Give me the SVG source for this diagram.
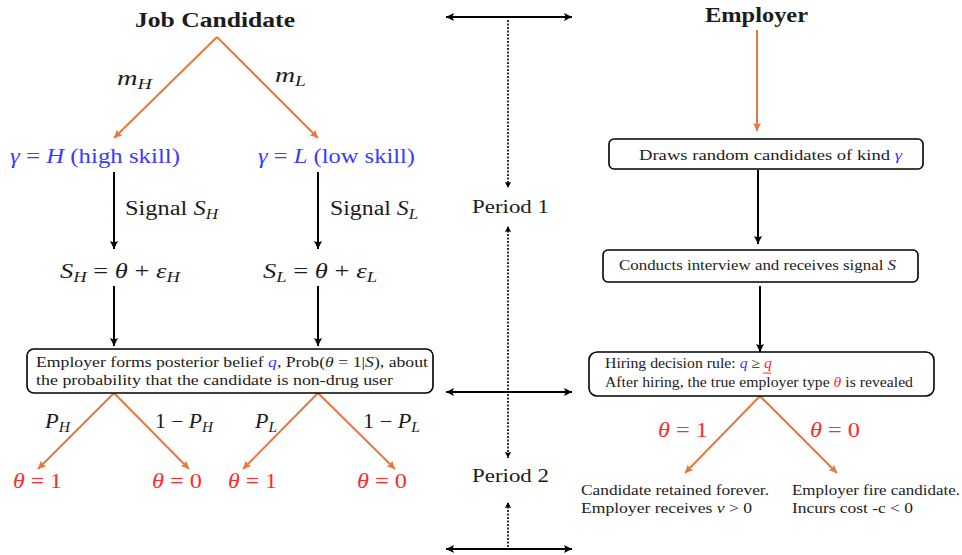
<svg xmlns="http://www.w3.org/2000/svg" width="962" height="555" viewBox="0 0 962 555">
<defs>
<style>
text{font-family:"Liberation Serif","DejaVu Serif",serif;fill:#1c1c1c}
.i{font-style:italic}
.bl{fill:#3b3bff}
.rd{fill:#ff2a2a}
.hd{font-weight:bold;font-size:21px}
.m{font-size:20px}
.or{stroke:#e8773a;stroke-width:2;fill:none;marker-end:url(#ao)}
.bk{stroke:#000;stroke-width:2;fill:none;marker-end:url(#ab)}
.dt{stroke:#000;stroke-width:1.6;fill:none;stroke-dasharray:2 1.5;marker-end:url(#ab)}
.hz{stroke:#000;stroke-width:2;fill:none;marker-start:url(#ab2);marker-end:url(#ab)}
.box{fill:#fff;stroke:#000;stroke-width:1.6}
</style>
<marker id="ao" viewBox="0 0 10 10" refX="10" refY="5" markerWidth="4.5" markerHeight="4" orient="auto" markerUnits="strokeWidth"><path d="M0,0 L10,5 L0,10 L2,5 z" fill="#e8773a"/></marker>
<marker id="ab" viewBox="0 0 10 10" refX="10" refY="5" markerWidth="4.5" markerHeight="4" orient="auto" markerUnits="strokeWidth"><path d="M0,0 L10,5 L0,10 L2,5 z" fill="#000"/></marker>
<marker id="ab2" viewBox="0 0 10 10" refX="10" refY="5" markerWidth="4.5" markerHeight="4" orient="auto-start-reverse" markerUnits="strokeWidth"><path d="M0,0 L10,5 L0,10 L2,5 z" fill="#000"/></marker>
</defs>
<rect width="962" height="555" fill="#fff"/>

<g id="connectors">
<line class="or" x1="217" y1="37" x2="114" y2="138"/>
<line class="or" x1="217" y1="37" x2="318" y2="138"/>
<line class="bk" x1="114" y1="172" x2="114" y2="249"/>
<line class="bk" x1="318" y1="172" x2="318" y2="249"/>
<line class="bk" x1="114" y1="286" x2="114" y2="346"/>
<line class="bk" x1="318" y1="286" x2="318" y2="346"/>
<line class="or" x1="114" y1="393" x2="38" y2="469"/>
<line class="or" x1="114" y1="393" x2="189" y2="469"/>
<line class="or" x1="318" y1="393" x2="243" y2="469"/>
<line class="or" x1="318" y1="393" x2="395" y2="469"/>
<line class="hz" x1="446" y1="17" x2="572" y2="17"/>
<line class="hz" x1="446" y1="392" x2="572" y2="392"/>
<line class="hz" x1="446" y1="549" x2="572" y2="549"/>
<line class="dt" x1="508" y1="20" x2="508" y2="188"/>
<line class="dt" x1="508" y1="390" x2="508" y2="226"/>
<line class="dt" x1="508" y1="394" x2="508" y2="458"/>
<line class="dt" x1="508" y1="547" x2="508" y2="502"/>
<line class="or" x1="757" y1="30" x2="757" y2="131"/>
<line class="bk" x1="758" y1="170" x2="758" y2="244"/>
<line class="bk" x1="760" y1="286" x2="760" y2="352"/>
<line class="or" x1="760" y1="396" x2="685" y2="473"/>
<line class="or" x1="760" y1="396" x2="837" y2="473"/>
</g>

<g id="job-candidate"><text class="hd" x="135" y="27" textLength="160" lengthAdjust="spacingAndGlyphs">Job Candidate</text></g>
<g id="label-mH"><text class="m i" x="117" y="85" textLength="35" lengthAdjust="spacingAndGlyphs">m<tspan font-size="14" dy="4">H</tspan></text></g>
<g id="label-mL"><text class="m i" x="275" y="82" textLength="31" lengthAdjust="spacingAndGlyphs">m<tspan font-size="14" dy="4">L</tspan></text></g>

<g id="gamma-H"><text class="m bl" x="10" y="163" textLength="170" lengthAdjust="spacingAndGlyphs"><tspan class="i">γ</tspan> = <tspan class="i">H</tspan> (high skill)</text></g>
<g id="gamma-L"><text class="m bl" x="258" y="163" textLength="157" lengthAdjust="spacingAndGlyphs"><tspan class="i">γ</tspan> = <tspan class="i">L</tspan> (low skill)</text></g>

<g id="label-signal-H"><text class="m" x="125" y="215" textLength="93" lengthAdjust="spacingAndGlyphs">Signal <tspan class="i">S</tspan><tspan class="i" font-size="14" dy="4">H</tspan></text></g>
<g id="label-signal-L"><text class="m" x="330" y="215" textLength="88" lengthAdjust="spacingAndGlyphs">Signal <tspan class="i">S</tspan><tspan class="i" font-size="14" dy="4">L</tspan></text></g>

<g id="SH-eq"><text class="m" x="60" y="278" textLength="120" lengthAdjust="spacingAndGlyphs"><tspan class="i">S</tspan><tspan class="i" font-size="14" dy="4">H</tspan><tspan dy="-4"> = </tspan><tspan class="i">θ</tspan> + <tspan class="i">ε</tspan><tspan class="i" font-size="14" dy="4">H</tspan></text></g>
<g id="SL-eq"><text class="m" x="263" y="278" textLength="114" lengthAdjust="spacingAndGlyphs"><tspan class="i">S</tspan><tspan class="i" font-size="14" dy="4">L</tspan><tspan dy="-4"> = </tspan><tspan class="i">θ</tspan> + <tspan class="i">ε</tspan><tspan class="i" font-size="14" dy="4">L</tspan></text></g>

<g id="posterior-box">
<rect class="box" x="27" y="349" width="406" height="44" rx="7"/>
<text font-size="15.5" x="36" y="367" textLength="392" lengthAdjust="spacingAndGlyphs">Employer forms posterior belief <tspan class="i bl">q</tspan>, Prob(<tspan class="i">θ</tspan> = 1|<tspan class="i">S</tspan>), about</text>
<text font-size="15.5" x="36" y="385" textLength="357" lengthAdjust="spacingAndGlyphs">the probability that the candidate is non-drug user</text>
</g>

<g id="label-PH"><text class="m i" x="45" y="428" textLength="25" lengthAdjust="spacingAndGlyphs">P<tspan font-size="14" dy="4">H</tspan></text></g>
<g id="label-1-PH"><text class="m" x="155" y="428" textLength="58" lengthAdjust="spacingAndGlyphs">1 − <tspan class="i">P</tspan><tspan class="i" font-size="14" dy="4">H</tspan></text></g>
<g id="label-PL"><text class="m i" x="255" y="428" textLength="22" lengthAdjust="spacingAndGlyphs">P<tspan font-size="14" dy="4">L</tspan></text></g>
<g id="label-1-PL"><text class="m" x="363" y="428" textLength="57" lengthAdjust="spacingAndGlyphs">1 − <tspan class="i">P</tspan><tspan class="i" font-size="14" dy="4">L</tspan></text></g>

<g id="theta1-H"><text class="m rd" x="13" y="488" textLength="49" lengthAdjust="spacingAndGlyphs"><tspan class="i">θ</tspan> = 1</text></g>
<g id="theta0-H"><text class="m rd" x="152" y="488" textLength="50" lengthAdjust="spacingAndGlyphs"><tspan class="i">θ</tspan> = 0</text></g>
<g id="theta1-L"><text class="m rd" x="228" y="488" textLength="49" lengthAdjust="spacingAndGlyphs"><tspan class="i">θ</tspan> = 1</text></g>
<g id="theta0-L"><text class="m rd" x="357" y="488" textLength="50" lengthAdjust="spacingAndGlyphs"><tspan class="i">θ</tspan> = 0</text></g>

<g id="period-1"><text font-size="19" x="472" y="213" textLength="77" lengthAdjust="spacingAndGlyphs">Period 1</text></g>
<g id="period-2"><text font-size="19" x="472" y="482" textLength="77" lengthAdjust="spacingAndGlyphs">Period 2</text></g>

<g id="employer"><text class="hd" x="705" y="22" textLength="103" lengthAdjust="spacingAndGlyphs">Employer</text></g>

<g id="draws-box">
<rect class="box" x="609" y="139" width="314" height="30" rx="5"/>
<text font-size="15.5" x="639" y="160" textLength="263" lengthAdjust="spacingAndGlyphs">Draws random candidates of kind <tspan class="i bl">γ</tspan></text>
</g>
<g id="interview-box">
<rect class="box" x="603" y="250" width="315" height="32" rx="5"/>
<text font-size="15" x="619" y="270" textLength="277" lengthAdjust="spacingAndGlyphs">Conducts interview and receives signal <tspan class="i">S</tspan></text>
</g>
<g id="hiring-box">
<rect class="box" x="589" y="352" width="345" height="44" rx="8"/>
<text font-size="14" x="605" y="368" textLength="167" lengthAdjust="spacingAndGlyphs">Hiring decision rule: <tspan class="i bl">q</tspan> ≥ <tspan class="i rd">q</tspan></text>
<line x1="763" y1="373" x2="771" y2="373" stroke="#ff2a2a" stroke-width="1"/>
<text font-size="14" x="605" y="387" textLength="308" lengthAdjust="spacingAndGlyphs">After hiring, the true employer type <tspan class="i rd">θ</tspan> is revealed</text>
</g>

<g id="label-theta1-emp"><text class="m rd" x="658" y="437" textLength="50" lengthAdjust="spacingAndGlyphs"><tspan class="i">θ</tspan> = 1</text></g>
<g id="label-theta0-emp"><text class="m rd" x="810" y="437" textLength="50" lengthAdjust="spacingAndGlyphs"><tspan class="i">θ</tspan> = 0</text></g>

<g id="retained">
<text font-size="15" x="581" y="495" textLength="188" lengthAdjust="spacingAndGlyphs">Candidate retained forever.</text>
<text font-size="15" x="581" y="513" textLength="171" lengthAdjust="spacingAndGlyphs">Employer receives  <tspan class="i">ν</tspan> &gt; 0</text>
</g>
<g id="fired">
<text font-size="15" x="792" y="495" textLength="168" lengthAdjust="spacingAndGlyphs">Employer fire candidate.</text>
<text font-size="15" x="792" y="513" textLength="121" lengthAdjust="spacingAndGlyphs">Incurs cost -c &lt; 0</text>
</g>
</svg>
